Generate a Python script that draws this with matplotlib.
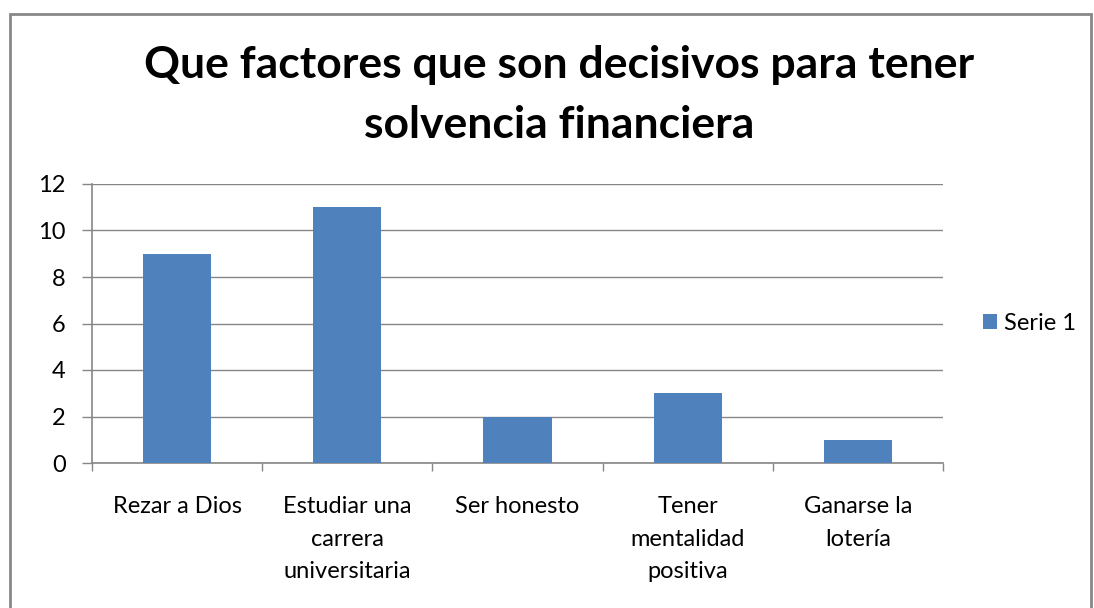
import matplotlib

matplotlib.use("Agg")
import matplotlib.pyplot as plt
import numpy as np
from matplotlib.patches import Rectangle

categories = [
    "Rezar a Dios",
    "Estudiar una\ncarrera\nuniversitaria",
    "Ser honesto",
    "Tener\nmentalidad\npositiva",
    "Ganarse la\nlotería",
]
serie_1 = [9, 11, 2, 3, 1]
yticks = [0, 2, 4, 6, 8, 10, 12]

BAR_COLOR = "#4F81BD"
GRID_COLOR = "#868686"

plt.rcParams["font.family"] = ["Lato", "DejaVu Sans"]

fig = plt.figure(figsize=(10.94, 6.08), dpi=100)
ax = fig.add_axes([92 / 1094, 1 - 463 / 608, (943 - 92) / 1094, (463 - 184) / 608])

x = np.arange(len(categories))
ax.bar(x, serie_1, 0.4, color=BAR_COLOR, label="Serie 1", zorder=3)

ax.set_xlim(-0.5, len(categories) - 0.5)
ax.set_ylim(0, 12)
ax.set_yticks(yticks)
ax.set_yticklabels([str(v) for v in yticks], fontsize=17)
ax.grid(axis="y", color=GRID_COLOR, linewidth=1.0, zorder=0)

# category labels centred, ticks at category boundaries
ax.set_xticks(np.arange(len(categories) + 1) - 0.5)
ax.set_xticklabels([])
ax.set_xticks(x, minor=True)
ax.set_xticklabels(categories, minor=True, fontsize=17, linespacing=1.67, va="top")
ax.tick_params(axis="x", which="minor", length=0, pad=24)
ax.tick_params(axis="x", which="major", length=6, color=GRID_COLOR, width=1.0)
ax.tick_params(axis="y", length=7, color=GRID_COLOR, width=1.0, pad=12)

for side in ("top", "right"):
    ax.spines[side].set_visible(False)
for side in ("left", "bottom"):
    ax.spines[side].set_color(GRID_COLOR)
    ax.spines[side].set_linewidth(1.2)

fig.text(0.511, 1 - 95 / 608, "Que factores que son decisivos para tener\nsolvencia financiera",
         ha="center", va="center", fontsize=32, fontweight="bold", linespacing=1.58)

ax.legend(loc="center left", bbox_to_anchor=(1.022, 0.5), frameon=False, fontsize=17,
          handlelength=0.6, handleheight=0.6, handletextpad=0.3)

fig.patches.append(Rectangle((10 / 1094, -0.05), (1091 - 10) / 1094, 1.05 - 14 / 608,
                             transform=fig.transFigure, fill=False, edgecolor="#888888",
                             linewidth=2.0))

fig.savefig("out.png", dpi=100)
plt.close(fig)
